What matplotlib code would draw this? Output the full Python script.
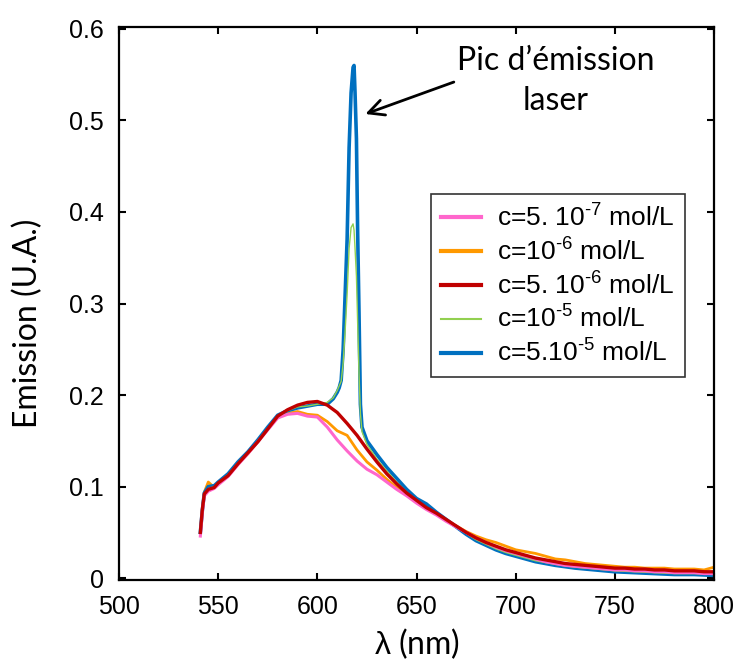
import matplotlib
matplotlib.use("Agg")
import matplotlib.pyplot as plt
from matplotlib.ticker import FuncFormatter

plt.rcParams['font.family'] = ['Liberation Sans', 'DejaVu Sans']
plt.rcParams['mathtext.fontset'] = 'custom'
plt.rcParams['mathtext.rm'] = 'Liberation Sans'
plt.rcParams['mathtext.it'] = 'Liberation Sans'
plt.rcParams['mathtext.bf'] = 'Liberation Sans'

# common wavelength grid (nm) for the low concentrations
wl = [541, 542, 543, 545, 548, 550, 555, 560, 565, 570, 575, 580, 585, 590,
      595, 600, 605, 610, 615, 620, 625, 630, 635, 640, 645, 650, 655, 660,
      665, 670, 675, 680, 685, 690, 695, 700, 705, 710, 715, 720, 725, 730,
      735, 740, 745, 750, 755, 760, 765, 770, 775, 780, 785, 790, 795, 800]

pink = [0.046, 0.072, 0.090, 0.095, 0.098, 0.102, 0.111, 0.124, 0.136, 0.149,
        0.162, 0.175, 0.179, 0.180, 0.177, 0.176, 0.165, 0.151, 0.139, 0.128,
        0.119, 0.113, 0.105, 0.097, 0.090, 0.082, 0.075, 0.069, 0.062, 0.056,
        0.050, 0.044, 0.039, 0.034, 0.030, 0.027, 0.024, 0.021, 0.018, 0.016,
        0.014, 0.013, 0.012, 0.011, 0.010, 0.009, 0.009, 0.008, 0.008, 0.007,
        0.007, 0.006, 0.006, 0.006, 0.005, 0.005]

orange = [0.050, 0.076, 0.094, 0.105, 0.099, 0.103, 0.113, 0.126, 0.136, 0.150,
          0.163, 0.176, 0.180, 0.182, 0.179, 0.178, 0.171, 0.161, 0.156, 0.140,
          0.127, 0.118, 0.108, 0.099, 0.091, 0.083, 0.076, 0.070, 0.063, 0.057,
          0.051, 0.046, 0.042, 0.039, 0.035, 0.031, 0.029, 0.027, 0.024, 0.021,
          0.020, 0.018, 0.016, 0.015, 0.014, 0.013, 0.012, 0.012, 0.011, 0.011,
          0.011, 0.010, 0.010, 0.010, 0.009, 0.012]

red = [0.050, 0.075, 0.092, 0.097, 0.099, 0.104, 0.112, 0.125, 0.137, 0.149,
       0.163, 0.177, 0.184, 0.189, 0.192, 0.193, 0.189, 0.181, 0.169, 0.156,
       0.141, 0.127, 0.114, 0.103, 0.093, 0.085, 0.077, 0.071, 0.064, 0.057,
       0.050, 0.044, 0.039, 0.035, 0.031, 0.028, 0.025, 0.022, 0.020, 0.018,
       0.016, 0.015, 0.014, 0.013, 0.012, 0.011, 0.011, 0.010, 0.010, 0.009,
       0.009, 0.008, 0.008, 0.008, 0.007, 0.007]

# finer grid around the laser line for the high concentrations
wl_laser = [541, 542, 543, 545, 548, 550, 555, 560, 565, 570, 575, 580, 585,
            590, 595, 600, 605, 608, 610, 611, 612, 613, 614, 615, 616, 617,
            618, 618.5, 619, 619.7, 620.3, 621, 621.7, 622.5, 625, 630, 635,
            640, 645, 650, 655, 660, 665, 670, 675, 680, 685, 690, 695, 700,
            705, 710, 715, 720, 730, 740, 750, 760, 770, 780, 790, 800]

green = [0.050, 0.074, 0.092, 0.098, 0.100, 0.104, 0.113, 0.126, 0.137, 0.150,
         0.164, 0.177, 0.183, 0.187, 0.188, 0.190, 0.192, 0.197, 0.205, 0.210,
         0.215, 0.235, 0.270, 0.310, 0.360, 0.383, 0.387, 0.380, 0.360, 0.330,
         0.280, 0.224, 0.180, 0.160, 0.146, 0.130, 0.117, 0.105, 0.094, 0.084,
         0.077, 0.070, 0.063, 0.056, 0.049, 0.042, 0.037, 0.032, 0.028, 0.025,
         0.022, 0.019, 0.017, 0.015, 0.012, 0.010, 0.008, 0.007, 0.006, 0.005,
         0.005, 0.004]

blue = [0.050, 0.074, 0.093, 0.100, 0.101, 0.105, 0.114, 0.127, 0.138, 0.151,
        0.165, 0.178, 0.183, 0.186, 0.188, 0.190, 0.190, 0.196, 0.203, 0.208,
        0.216, 0.250, 0.310, 0.370, 0.470, 0.530, 0.558, 0.560, 0.530, 0.480,
        0.380, 0.290, 0.190, 0.165, 0.150, 0.135, 0.121, 0.109, 0.097, 0.087,
        0.081, 0.072, 0.064, 0.056, 0.048, 0.041, 0.036, 0.031, 0.027, 0.024,
        0.021, 0.018, 0.016, 0.014, 0.011, 0.009, 0.007, 0.006, 0.005, 0.004,
        0.004, 0.003]

labels = [r'c=5. 10$^{\text{-}7}$ mol/L', r'c=10$^{\text{-}6}$ mol/L',
          r'c=5. 10$^{\text{-}6}$ mol/L', r'c=10$^{\text{-}5}$ mol/L',
          r'c=5.10$^{\text{-}5}$ mol/L']

fig = plt.figure(figsize=(7.44, 6.64), dpi=100)
ax = fig.add_axes([0.16, 0.1265, 0.7997, 0.8328])

l_or, = ax.plot(wl, orange, color='#FF9900', lw=2.0)
l_bl, = ax.plot(wl_laser, blue, color='#0070C0', lw=2.6)
l_gr, = ax.plot(wl_laser, green, color='#92D050', lw=1.0)
l_pk, = ax.plot(wl, pink, color='#FF66CC', lw=2.2)
l_rd, = ax.plot(wl, red, color='#C00000', lw=2.4)

ax.set_xlim(500, 800)
ax.set_ylim(-0.002, 0.602)
ax.set_xticks([500, 550, 600, 650, 700, 750, 800])
ax.set_yticks([0, 0.1, 0.2, 0.3, 0.4, 0.5, 0.6])
ax.yaxis.set_major_formatter(FuncFormatter(lambda v, p: '0' if v == 0 else '%.1f' % v))
ax.tick_params(direction='in', top=True, right=True, length=5, width=1.5,
               labelsize=18, pad=11)
for s in ax.spines.values():
    s.set_linewidth(1.6)

ax.set_xlabel(r'$\lambda$ (nm)', fontsize=23, family=['Lato', 'DejaVu Sans'], labelpad=5)
ax.set_ylabel('Emission (U.A.)', fontsize=23, family=['Lato', 'DejaVu Sans'])
ax.yaxis.set_label_coords(-0.128, 0.465)

ax.annotate("Pic d\u2019émission\nlaser", xy=(624.2, 0.507), xytext=(720, 0.543),
            ha='center', va='center', fontsize=23, family=['Lato', 'DejaVu Sans'],
            linespacing=1.4,
            arrowprops=dict(arrowstyle='->', color='black', lw=2, mutation_scale=28,
                            shrinkA=0, shrinkB=0, relpos=(0.0, 0.5)))

leg = ax.legend([l_pk, l_or, l_rd, l_gr, l_bl], labels, loc='upper left',
                bbox_to_anchor=(0.502, 0.722), fontsize=19, frameon=True,
                fancybox=False, edgecolor='black', handlelength=1.5,
                labelspacing=0.25, borderpad=0.4, handletextpad=0.6)
leg.get_frame().set_linewidth(1.2)
for h in leg.get_lines():
    h.set_linewidth(3)
leg.get_lines()[3].set_linewidth(1.5)

fig.savefig('out.png', dpi=100)
